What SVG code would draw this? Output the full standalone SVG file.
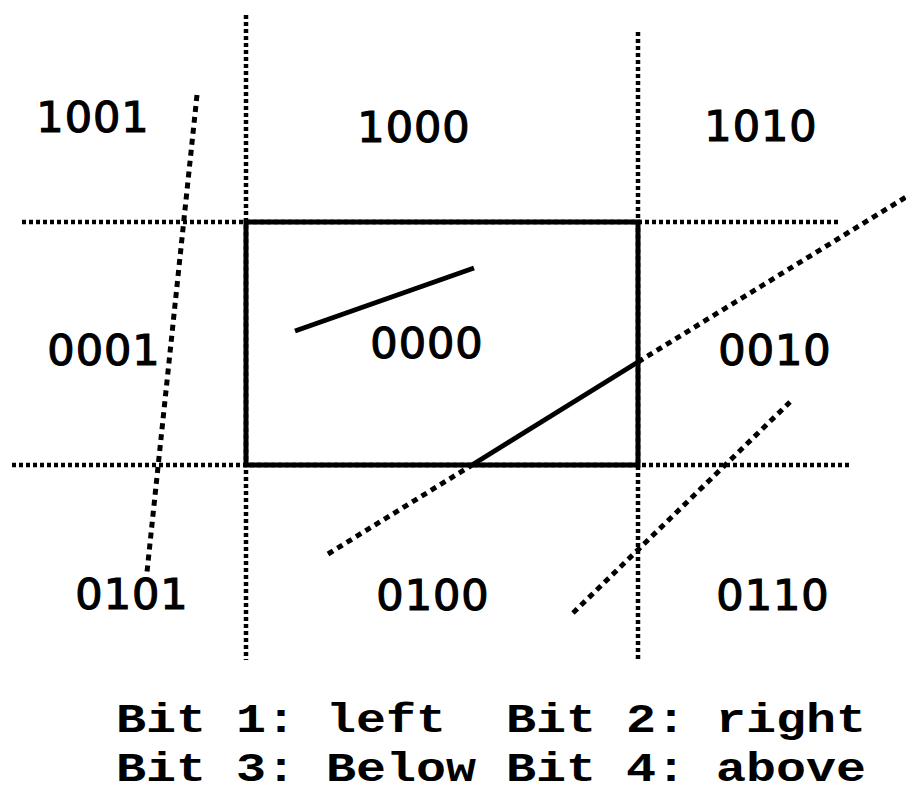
<svg xmlns="http://www.w3.org/2000/svg" width="906" height="787" viewBox="0 0 906 787">
<style>
.grid{stroke:#000;stroke-width:4.5;stroke-dasharray:4 3;fill:none}
.clip{stroke:#000;stroke-width:5;stroke-dasharray:6 5;fill:none}
.solid{stroke:#000;stroke-width:5;fill:none}
.code{font-family:"DejaVu Sans",sans-serif;font-size:43px;text-anchor:middle;fill:#000;stroke:#000;stroke-width:1.2;letter-spacing:1px}
.legend{font-family:"Liberation Mono",monospace;font-weight:bold;font-size:40px;fill:#000;white-space:pre}
</style>
<rect width="906" height="787" fill="#fff"/>
<g id="grid-lines">
<line class="grid" x1="246" y1="15" x2="246" y2="660"/>
<line class="grid" x1="638" y1="32" x2="638" y2="660"/>
<line class="grid" x1="22" y1="222" x2="838" y2="222"/>
<line class="grid" x1="12" y1="465" x2="852" y2="465"/>
</g>
<g id="window">
<rect class="solid" x="246" y="222" width="392" height="243"/>
</g>
<g id="segments">
<line class="clip" x1="197" y1="95" x2="147" y2="572"/>
<line class="solid" x1="295" y1="331" x2="474" y2="268"/>
<line class="clip" x1="328" y1="554" x2="472" y2="465"/>
<line class="solid" x1="472" y1="465" x2="638" y2="362"/>
<line class="clip" x1="638" y1="362" x2="906" y2="197"/>
<line class="clip" x1="573" y1="613" x2="790" y2="402"/>
</g>
<g id="region-codes">
<text class="code" x="93" y="132">1001</text>
<text class="code" x="414" y="142">1000</text>
<text class="code" x="761" y="141">1010</text>
<text class="code" x="104" y="365">0001</text>
<text class="code" x="427" y="358">0000</text>
<text class="code" x="775" y="365">0010</text>
<text class="code" x="132" y="609">0101</text>
<text class="code" x="433" y="610">0100</text>
<text class="code" x="773" y="610">0110</text>
</g>
<g id="legend">
<text class="legend" x="116" y="732" textLength="750" lengthAdjust="spacingAndGlyphs" xml:space="preserve">Bit 1: left  Bit 2: right</text>
<text class="legend" x="116" y="781" textLength="750" lengthAdjust="spacingAndGlyphs" xml:space="preserve">Bit 3: Below Bit 4: above</text>
</g>
</svg>
